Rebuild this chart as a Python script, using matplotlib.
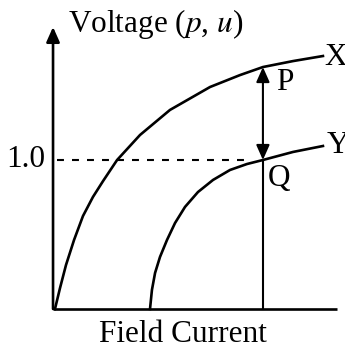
import matplotlib
matplotlib.use("Agg")
import matplotlib.pyplot as plt

# Curve X (upper characteristic), field current vs voltage
x_curve_i = [0.013, 0.047, 0.087, 0.141, 0.201, 0.268, 0.336, 0.430, 0.584, 0.785,
             1.054, 1.255, 1.409, 1.611, 1.812]
x_curve_v = [0.0, 0.141, 0.295, 0.463, 0.624, 0.752, 0.859, 1.0, 1.168, 1.336,
             1.490, 1.570, 1.624, 1.664, 1.698]

# Curve Y (lower characteristic)
y_curve_i = [0.651, 0.664, 0.685, 0.718, 0.765, 0.819, 0.886, 0.973, 1.074, 1.188,
             1.302, 1.409, 1.611, 1.812]
y_curve_v = [0.0, 0.128, 0.242, 0.349, 0.463, 0.577, 0.685, 0.785, 0.866, 0.933,
             0.973, 1.0, 1.054, 1.094]

# operating points
i_op = 1.409
v_p = 1.624
v_q = 1.0

plt.rcParams['font.family'] = ['Liberation Serif', 'DejaVu Serif']
plt.rcParams['mathtext.fontset'] = 'stix'
plt.rcParams['lines.scale_dashes'] = False

fig = plt.figure(figsize=(3.45, 3.48), dpi=100)
ax = fig.add_axes([0, 0, 1, 1])
ax.set_xlim(-0.356, 1.960)
ax.set_ylim(-0.262, 2.074)
ax.axis('off')

fs = 22.5
lw = 1.9

# axes
ax.plot([0, 1.906], [0, 0], color='black', lw=lw, solid_capstyle='butt')
ax.annotate('', xy=(0, 1.893), xytext=(0, 0),
            arrowprops=dict(arrowstyle='-|>,head_length=0.45,head_width=0.2',
                            lw=lw, color='black', mutation_scale=20,
                            shrinkA=0, shrinkB=0))

# characteristics
ax.plot(x_curve_i, x_curve_v, color='black', lw=lw, solid_joinstyle='round')
ax.plot(y_curve_i, y_curve_v, color='black', lw=lw, solid_joinstyle='round')

# dashed level at 1.0
ax.plot([0.027, 1.32], [v_q, v_q], color='black', lw=1.5, dashes=(5, 5.8))

# vertical line and P-Q arrows
ax.plot([i_op, i_op], [0, v_q], color='black', lw=1.5)
ax.annotate('', xy=(i_op, v_p), xytext=(i_op, v_q),
            arrowprops=dict(arrowstyle='<|-|>,head_length=0.45,head_width=0.2',
                            lw=1.5, color='black', mutation_scale=20,
                            shrinkA=0, shrinkB=0))

# labels
ax.text(0.101, 1.859, 'Voltage ($p$, $u$)', fontsize=fs, ha='left', va='baseline')
ax.text(-0.054, v_q, '1.0', fontsize=fs, ha='right', va='center')
ax.text(0.872, -0.225, 'Field Current', fontsize=fs, ha='center', va='baseline')
ax.text(1.82, 1.691, 'X', fontsize=fs, ha='left', va='center')
ax.text(1.84, 1.094, 'Y', fontsize=fs, ha='left', va='center')
ax.text(1.50, 1.517, 'P', fontsize=fs, ha='left', va='center')
ax.text(1.44, 0.879, 'Q', fontsize=fs, ha='left', va='center')

fig.savefig('out.png', dpi=100)
